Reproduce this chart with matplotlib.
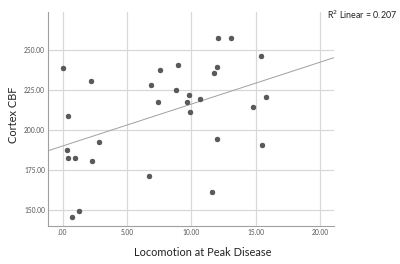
import numpy as np
import matplotlib
matplotlib.use("Agg")
import matplotlib.pyplot as plt

# locomotion at peak disease vs cortex CBF
locomotion = [0.00, 0.37, 2.18, 6.88, 7.54, 8.99, 7.39, 8.78, 9.79, 9.65,
              9.90, 10.67, 12.09, 13.06, 15.39, 11.97, 11.76, 15.83, 14.79, 0.33,
              2.80, 0.44, 0.93, 2.30, 6.71, 1.27, 0.72, 11.99, 15.49, 11.58]
cortex_cbf = [238.8, 208.4, 230.5, 227.7, 237.2, 240.7, 217.4, 225.1, 221.5, 217.4,
              211.3, 219.5, 257.5, 257.5, 246.2, 238.9, 235.5, 220.7, 214.3, 187.7,
              192.3, 182.4, 182.4, 180.6, 171.5, 149.8, 145.6, 194.6, 190.5, 161.3]

x_ticks = [0, 5, 10, 15, 20]
x_labels = [".00", "5.00", "10.00", "15.00", "20.00"]
y_ticks = [150, 175, 200, 225, 250]
y_labels = ["150.00", "175.00", "200.00", "225.00", "250.00"]
r2_text = "R$^2$ Linear = 0.207"

plt.rcParams['font.family'] = ['Lato', 'DejaVu Sans']

fig = plt.figure(figsize=(4, 2.64), dpi=100)
ax = fig.add_axes([0.121, 0.145, 0.714, 0.81])

x = np.array(locomotion)
y = np.array(cortex_cbf)
slope, intercept = np.polyfit(x, y, 1)

xlim = (-1.12, 21.1)
ax.set_xlim(*xlim)
ax.set_ylim(140.4, 273.5)

xl = np.array(xlim)
ax.plot(xl, intercept + slope * xl, color='#a0a0a0', linewidth=0.7, zorder=2)
ax.scatter(x, y, s=12, color='#5a5a5a', edgecolors='#404040', linewidths=0.4, zorder=3)

ax.set_xticks(x_ticks)
ax.set_xticklabels(x_labels)
ax.set_yticks(y_ticks)
ax.set_yticklabels(y_labels)
ax.tick_params(length=0, labelsize=4.8, labelcolor='#555555', pad=2.5)

ax.grid(True, color='#d8d8d8', linewidth=0.9)
ax.set_axisbelow(True)
for side in ['top', 'right']:
    ax.spines[side].set_visible(False)
for side in ['left', 'bottom']:
    ax.spines[side].set_color('#a0a0a0')
    ax.spines[side].set_linewidth(0.8)

ax.set_xlabel("Locomotion at Peak Disease", fontsize=7.9, color='#222222')
ax.set_ylabel("Cortex CBF", fontsize=7.9, color='#222222')
ax.xaxis.set_label_coords(0.541, -0.10)
ax.yaxis.set_label_coords(-0.104, 0.52)

fig.text(0.817, 0.945, r2_text, fontsize=6.4, color='#222222', va='center')

fig.savefig("out.png", dpi=100, facecolor='white')
